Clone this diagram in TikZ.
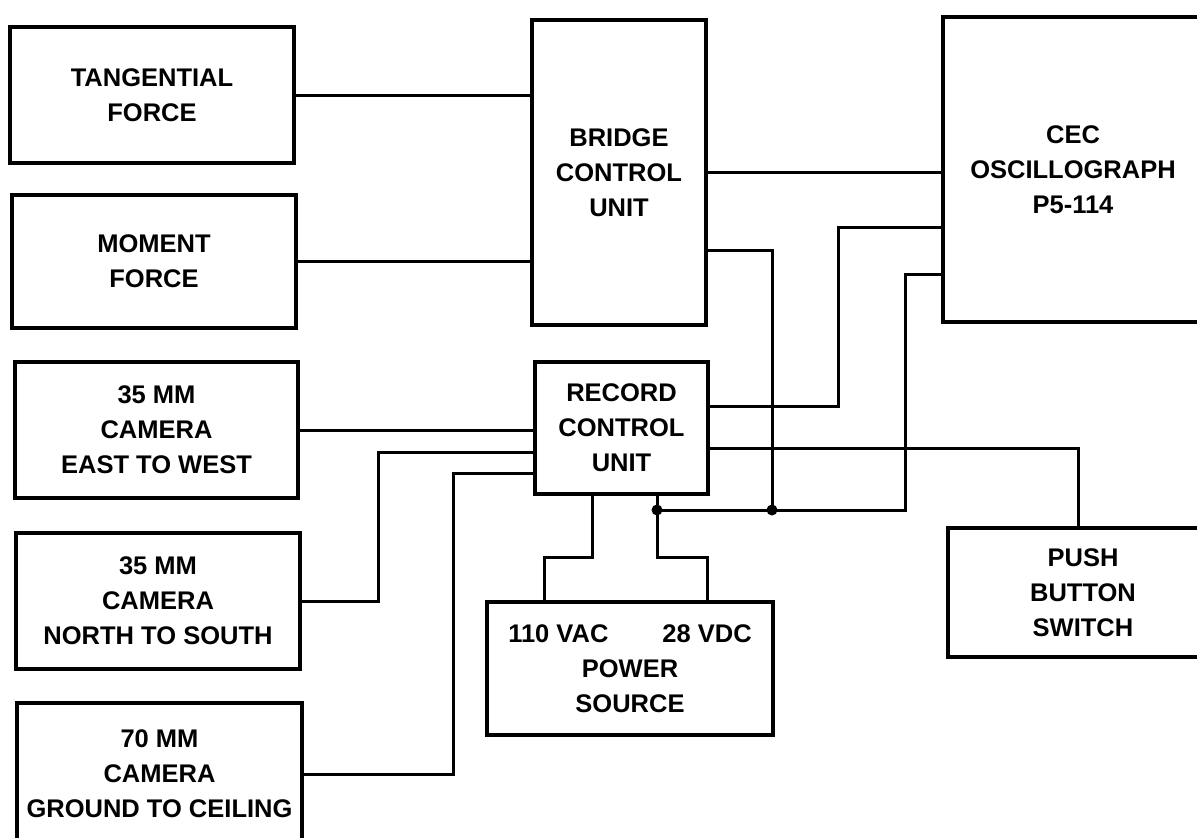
\documentclass[tikz,border=0pt]{standalone}
\usepackage{fontspec}
\setmainfont{Liberation Sans}
\begin{document}
\begin{tikzpicture}[x=1pt,y=-1pt,
  blk/.style={draw=black, line width=3.6pt, align=center, inner sep=0pt,
    font=\bfseries\fontsize{25.5}{35}\selectfont},
  wire/.style={draw=black, line width=3pt, line join=miter},
  jdot/.style={circle, fill=black, inner sep=0pt, minimum size=11pt}]
\clip (0,0) rectangle (1197,838);
\fill[white] (0,0) rectangle (1197,838);
% blocks
\node[blk, minimum width=284pt, minimum height=136pt] (tf) at (152,95) {TANGENTIAL\\FORCE};
\node[blk, minimum width=284pt, minimum height=133pt] (mf) at (154,261.5) {MOMENT\\FORCE};
\node[blk, minimum width=283pt, minimum height=136pt] (ew) at (156.5,430) {35 MM\\CAMERA\\EAST TO WEST};
\node[blk, minimum width=284pt, minimum height=136pt] (ns) at (158,601) {35 MM\\CAMERA\\NORTH TO SOUTH};
\node[blk, minimum width=285pt, minimum height=142pt] (gc) at (159.5,774) {70 MM\\CAMERA\\GROUND TO CEILING};
\node[blk, minimum width=174pt, minimum height=305pt] (bcu) at (619,172.5) {BRIDGE\\CONTROL\\UNIT};
\node[blk, minimum width=173pt, minimum height=132pt] (rcu) at (621.5,428) {RECORD\\CONTROL\\UNIT};
\node[blk, minimum width=260pt, minimum height=305pt] (cec) at (1073,169.5) {CEC\\OSCILLOGRAPH\\P5-114};
\node[blk, minimum width=286pt, minimum height=133pt] (ps) at (630,668.5) {110 VAC\hspace{54pt}28 VDC\\POWER\\SOURCE};
\node[blk, minimum width=270pt, minimum height=129pt] (pb) at (1083,592.5) {PUSH\\BUTTON\\SWITCH};
% routing points
\coordinate (b2) at (772,250);
\coordinate (j2) at (772,510);
\coordinate (c1) at (838,227);
\coordinate (c1b) at (838,406);
\coordinate (c2) at (905,274);
\coordinate (c2b) at (905,510);
\coordinate (j1) at (657,510);
\coordinate (s1) at (1078,448);
\coordinate (n1) at (378,601);
\coordinate (n2) at (378,452);
\coordinate (g1) at (453,774);
\coordinate (g2) at (453,473);
\coordinate (p1) at (592,557);
\coordinate (p2) at (544,557);
\coordinate (q1) at (657,557);
\coordinate (q2) at (707,557);
% connectors
\draw[wire] (tf.east) -- (tf.east -| bcu.west);
\draw[wire] (mf.east) -- (mf.east -| bcu.west);
\draw[wire] (bcu.east) -- (bcu.east -| cec.west);
\draw[wire] (bcu.east |- b2) -- (b2) -- (j2);
\draw[wire] (cec.west |- c1) -- (c1) -- (c1b) -- (c1b -| rcu.east);
\draw[wire] (cec.west |- c2) -- (c2) -- (c2b) -- (j1);
\draw[wire] (rcu.east |- s1) -- (s1) -- (s1 |- pb.north);
\draw[wire] (ew.east) -- (ew.east -| rcu.west);
\draw[wire] (ns.east |- n1) -- (n1) -- (n2) -- (n2 -| rcu.west);
\draw[wire] (gc.east |- g1) -- (g1) -- (g2) -- (g2 -| rcu.west);
\draw[wire] (rcu.south -| p1) -- (p1) -- (p2) -- (p2 |- ps.north);
\draw[wire] (rcu.south -| q1) -- (q1) -- (q2) -- (q2 |- ps.north);
\node[jdot] (d1) at (j1) {};
\node[jdot] (d2) at (j2) {};
\end{tikzpicture}
\end{document}
